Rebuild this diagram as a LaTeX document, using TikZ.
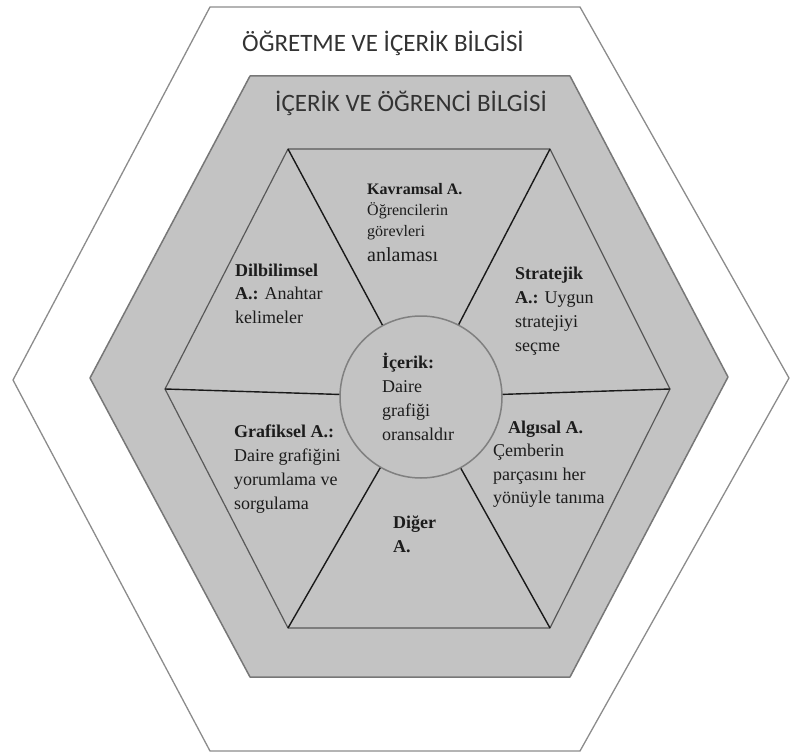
\documentclass[tikz,border=0pt]{standalone}
\usepackage{fontspec}
\setmainfont{Liberation Serif}
\newfontfamily\headfont{Carlito}
\definecolor{panel}{HTML}{C3C3C3}
\definecolor{rim}{HTML}{8C8C8C}
\definecolor{ink}{HTML}{1C1C1C}
\tikzset{
  outerhex/.style={draw=rim, line width=1.3pt, fill=white, line join=round},
  panelhex/.style={draw=rim!85!black, line width=1.5pt, fill=panel, line join=round},
  innerhex/.style={draw=black!65, line width=1.2pt, line join=round},
  spoke/.style={draw=black!90, line width=1.4pt},
  core/.style={circle, draw=black!50, line width=1.5pt, fill=panel, minimum size=162pt, inner sep=0pt},
  heading/.style={font=\headfont\fontsize{25}{30}\selectfont, text=ink!90, inner sep=0pt, anchor=base west},
  label/.style={text=ink, inner sep=0pt, anchor=base west},
}
\newcommand{\lines}[2]{\fontsize{18}{#1}\selectfont\begin{tabular}[t]{@{}l@{}}#2\end{tabular}}
\begin{document}
\begin{tikzpicture}[x=1pt,y=-1pt]
\useasboundingbox (0,0) rectangle (792,754);

% outer band: teaching and content knowledge
\draw[outerhex] (210,7) -- (580,7) -- (789,378) -- (580,751) -- (210,751) -- (13,380) -- cycle;
\node[heading] (tck) at (242,52) {ÖĞRETME VE İÇERİK BİLGİSİ};

% middle band: content and student knowledge
\draw[panelhex] (250,76) -- (570,76) -- (728,377) -- (570,677) -- (250,677) -- (90,378) -- cycle;
\node[heading] (csk) at (275,112) {İÇERİK VE ÖĞRENCİ BİLGİSİ};

% inner hexagon corners
\coordinate (h1) at (288,149);
\coordinate (h2) at (550,149);
\coordinate (h3) at (670,389);
\coordinate (h4) at (550,628);
\coordinate (h5) at (288,628);
\coordinate (h6) at (165,389);
\draw[innerhex] (h1) -- (h2) -- (h3) -- (h4) -- (h5) -- (h6) -- cycle;

% central content circle and the spokes to every corner
\node[core] (c) at (421,397) {};
\foreach \k in {1,...,6} \draw[spoke] (h\k) -- (c);

% centre text
\node[label] (icerik) at (382,368) {\lines{24}{\textbf{İçerik:}\\Daire\\grafiği\\oransaldır}};

% the six segments
\node[label] (kavramsal) at (367,194) {\fontsize{16}{21}\selectfont\begin{tabular}[t]{@{}l@{}}\textbf{Kavramsal A.}\\Öğrencilerin\\görevleri\\[4pt]{\fontsize{20}{24}\selectfont anlaması}\end{tabular}};
\node[label] (stratejik) at (515,279) {\lines{24.3}{\textbf{Stratejik}\\\textbf{A.:} Uygun\\stratejiyi\\seçme}};
\node[label] (algisal) at (493,433) {\lines{23.5}{\hspace*{15pt}\textbf{Algısal A.}\\Çemberin\\parçasını her\\yönüyle tanıma}};
\node[label] (diger) at (393,528) {\lines{24}{\textbf{Diğer}\\\textbf{A.}}};
\node[label] (grafiksel) at (234,437) {\lines{24}{\textbf{Grafiksel A.:}\\Daire grafiğini\\yorumlama ve\\sorgulama}};
\node[label] (dilbilimsel) at (235,276) {\lines{23.5}{\textbf{Dilbilimsel}\\\textbf{A.:} Anahtar\\kelimeler}};
\end{tikzpicture}
\end{document}
